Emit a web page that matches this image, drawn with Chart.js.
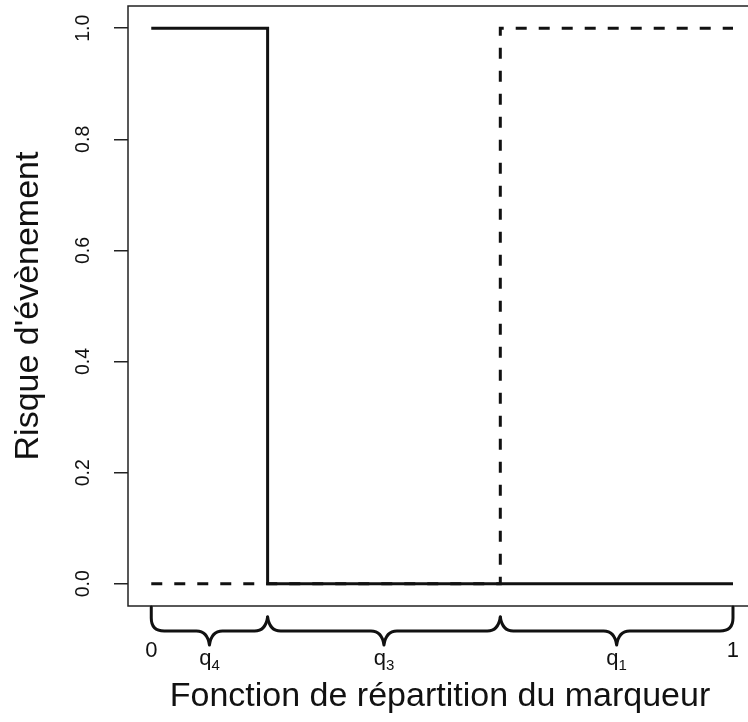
<!DOCTYPE html>
<html>
<head>
<meta charset="utf-8">
<title>Risque d'évènement</title>
<script src="https://cdn.jsdelivr.net/npm/chart.js"></script>
<style>
  html, body { margin: 0; padding: 0; background: #fff; overflow: hidden; }
  #wrap { width: 748px; height: 722px; position: relative; }
</style>
</head>
<body>
<div id="wrap"><canvas id="risk"></canvas></div>
<script>
// step functions: risk against the marker's distribution function
const solidX = [0, 0.2, 0.2, 1];
const solidY = [1, 1, 0, 0];
const dashedX = [0, 0.6, 0.6, 1];
const dashedY = [0, 0, 1, 1];

// quantile groups shown under the axis
const groupCuts = [0, 0.2, 0.6, 1];
const groupSubs = ['4', '3', '1'];
const endLabels = ['0', '1'];

const yTicks = [0, 0.2, 0.4, 0.6, 0.8, 1.0];
const yTickLabels = ['0.0', '0.2', '0.4', '0.6', '0.8', '1.0'];

const xTitle = 'Fonction de répartition du marqueur';
const yTitle = "Risque d'évènement";

const FONT = '"Liberation Sans", Arial, Helvetica, sans-serif';
const INK = '#111';

function pts(xs, ys) {
  return xs.map((x, i) => ({ x: x, y: ys[i] }));
}

// frame, y tick labels, titles and the braces under the x axis
const decorations = {
  id: 'decorations',
  afterDraw(chart) {
    const ctx = chart.ctx;
    const a = chart.chartArea;
    const xs = chart.scales.x;
    const ys = chart.scales.y;
    ctx.save();

    // box (right side runs off the canvas)
    ctx.strokeStyle = '#222';
    ctx.lineWidth = 1.5;
    ctx.strokeRect(a.left, a.top, a.right - a.left + 20, a.bottom - a.top);

    ctx.fillStyle = INK;
    // y tick labels, rotated
    ctx.font = '19.5px ' + FONT;
    ctx.textAlign = 'center';
    ctx.textBaseline = 'alphabetic';
    yTicks.forEach((v, i) => {
      ctx.save();
      ctx.translate(89, ys.getPixelForValue(v));
      ctx.rotate(-Math.PI / 2);
      ctx.fillText(yTickLabels[i], 0, 0);
      ctx.restore();
    });

    // y title
    ctx.font = '34px ' + FONT;
    ctx.save();
    ctx.translate(38, (ys.getPixelForValue(0) + ys.getPixelForValue(1)) / 2);
    ctx.rotate(-Math.PI / 2);
    ctx.fillText(yTitle, 0, 0);
    ctx.restore();

    // x title
    ctx.fillText(xTitle, 440, 706);

    // braces
    const hy = a.bottom + 25;
    const tipY = a.bottom + 39;
    const outerTop = a.bottom + 1;
    const innerTop = a.bottom + 11;
    const r = 13;
    ctx.strokeStyle = INK;
    ctx.lineWidth = 3;
    ctx.lineJoin = 'round';
    ctx.lineCap = 'round';
    for (let i = 0; i < groupCuts.length - 1; i++) {
      const xa = xs.getPixelForValue(groupCuts[i]);
      const xb = xs.getPixelForValue(groupCuts[i + 1]);
      const mid = (xa + xb) / 2;
      const firstOuter = i === 0;
      const lastOuter = i === groupCuts.length - 2;
      ctx.beginPath();
      if (firstOuter) {
        ctx.moveTo(xa, outerTop);
        ctx.lineTo(xa, hy - r);
        ctx.quadraticCurveTo(xa, hy, xa + r, hy);
      } else {
        ctx.moveTo(xa, innerTop);
        ctx.quadraticCurveTo(xa + 2, hy, xa + r, hy);
      }
      ctx.lineTo(mid - r, hy);
      ctx.quadraticCurveTo(mid - 2, hy, mid, tipY);
      ctx.quadraticCurveTo(mid + 2, hy, mid + r, hy);
      ctx.lineTo(xb - r, hy);
      if (lastOuter) {
        ctx.quadraticCurveTo(xb, hy, xb, hy - r);
        ctx.lineTo(xb, outerTop);
      } else {
        ctx.quadraticCurveTo(xb - 2, hy, xb, innerTop);
      }
      ctx.stroke();

      // group label q with subscript
      ctx.font = '22px ' + FONT;
      const qw = ctx.measureText('q').width;
      ctx.font = '15px ' + FONT;
      const sw = ctx.measureText(groupSubs[i]).width;
      const left = mid - (qw + sw) / 2;
      ctx.textAlign = 'left';
      ctx.font = '22px ' + FONT;
      ctx.fillText('q', left, 665);
      ctx.font = '15px ' + FONT;
      ctx.fillText(groupSubs[i], left + qw, 670);
      ctx.textAlign = 'center';
    }

    // end labels 0 and 1
    ctx.font = '22px ' + FONT;
    ctx.fillText(endLabels[0], xs.getPixelForValue(groupCuts[0]), 657);
    ctx.fillText(endLabels[1], xs.getPixelForValue(groupCuts[groupCuts.length - 1]), 657);

    ctx.restore();
  }
};

new Chart(document.getElementById('risk'), {
  type: 'line',
  data: {
    datasets: [
      {
        data: pts(solidX, solidY),
        borderColor: INK,
        borderWidth: 3,
        pointRadius: 0,
        tension: 0,
        fill: false
      },
      {
        data: pts(dashedX, dashedY),
        borderColor: INK,
        borderWidth: 3,
        borderDash: [11, 12],
        pointRadius: 0,
        tension: 0,
        fill: false
      }
    ]
  },
  options: {
    responsive: true,
    maintainAspectRatio: false,
    animation: false,
    events: [],
    layout: { padding: { top: 6, right: 0, bottom: 116, left: 0 } },
    plugins: {
      legend: { display: false },
      tooltip: { enabled: false }
    },
    scales: {
      x: {
        type: 'linear',
        min: -0.04,
        max: 1.0258,
        display: false
      },
      y: {
        type: 'linear',
        min: -0.04,
        max: 1.04,
        afterBuildTicks: (scale) => {
          scale.ticks = yTicks.map(v => ({ value: v }));
        },
        afterFit: (scale) => { scale.width = 128; },
        ticks: { display: false },
        border: { display: false },
        grid: {
          drawOnChartArea: false,
          drawTicks: true,
          tickLength: 14,
          color: '#222',
          lineWidth: 1.5
        }
      }
    }
  },
  plugins: [decorations]
});
</script>
</body>
</html>
